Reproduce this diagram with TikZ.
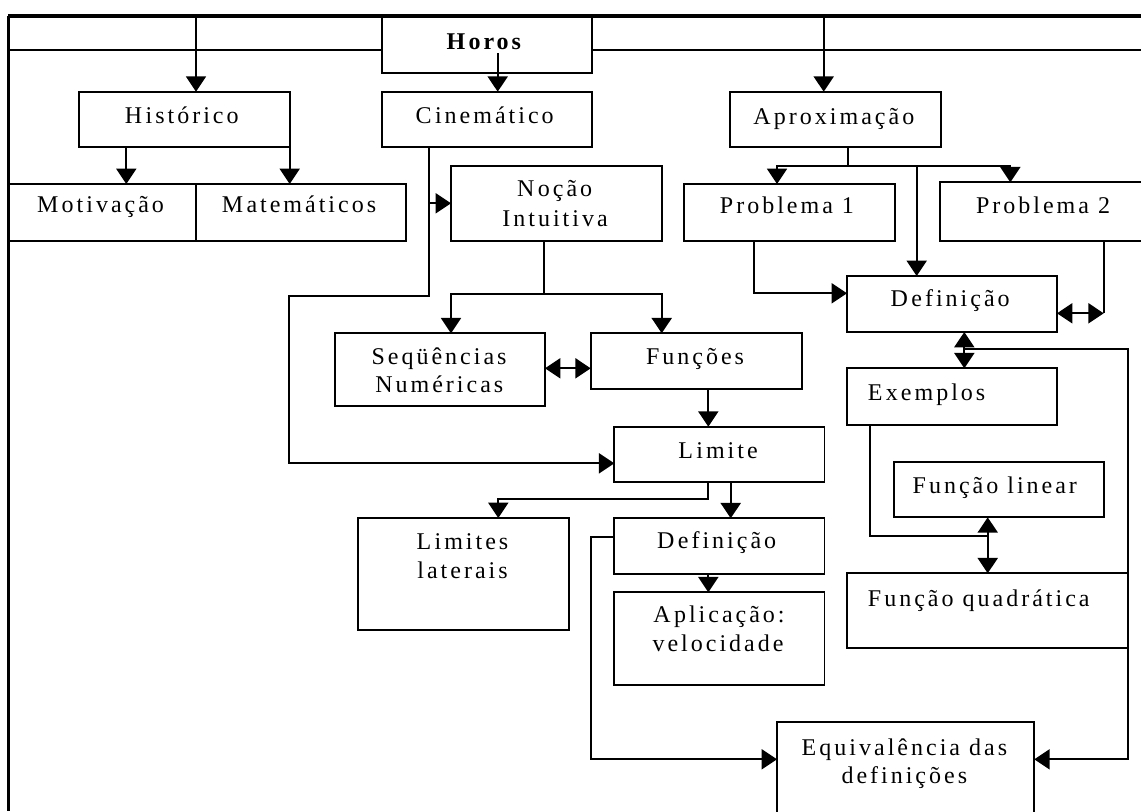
\documentclass[tikz,border=0pt]{standalone}
\usepackage{fontspec}
\setmainfont{Liberation Serif}[LetterSpace=12.5]
\usetikzlibrary{arrows.meta,fit}
% wider gap after an initial capital
\newcommand\fk{\kern2.5pt}
\begin{document}
\begin{tikzpicture}[x=0.75pt,y=-0.75pt,
  box/.style={draw, line width=1.4pt, inner sep=0pt, outer sep=0pt},
  lbl/.style={inner sep=0pt, font=\fontsize{18pt}{21.75pt}\selectfont, anchor=base},
  lblw/.style={lbl, anchor=base west},
  wire/.style={line width=1.4pt},
  tip/.tip={Triangle[length=11.5pt,width=15pt]},
  arr/.style={wire, -tip},
  darr/.style={wire, tip-tip}]
\useasboundingbox (0,0) rectangle (1141,811);
\fill[white] (0,0) rectangle (1141,811);
\clip (0,0) rectangle (1141,811);

% frame
\draw[line width=2.4pt] (8.4,16) -- (1150,16);
\draw[line width=1.8pt] (8.4,16) -- (8.4,811);

% boxes
\node[box, fit={(382,16) (591.7,72.7)}] (horos) {};
\node[box, fit={(79,91.7) (289.7,147.3)}] (hist) {};
\node[box, fit={(382,91.7) (591.7,147.3)}] (cine) {};
\node[box, fit={(730,91.7) (941.3,147.3)}] (aprox) {};
\node[box, fit={(9,184) (196,240.7)}] (motiv) {};
\node[box, fit={(196,184) (405.7,240.7)}] (matem) {};
\node[box, fit={(451,165.7) (661.7,240.7)}] (nocao) {};
\node[box, fit={(684,184) (895,240.7)}] (prob1) {};
\node[box, fit={(940.3,182.3) (1160,240.7)}] (prob2) {};
\node[box, fit={(847,276) (1057,332)}] (def1) {};
\node[box, fit={(335,333.3) (545,406)}] (seq) {};
\node[box, fit={(590.7,333.3) (801.6,389.3)}] (func) {};
\node[box, fit={(847,368.3) (1057,425)}] (exem) {};
\node[box, fit={(614.3,426.7) (824.5,481.7)}] (limite) {};
\node[box, fit={(893.7,461.7) (1103.7,517.3)}] (flin) {};
\node[box, fit={(357.8,518) (569,630)}] (ll) {};
\node[box, fit={(614.3,518.3) (824.5,574)}] (def2) {};
\node[box, fit={(847,573.3) (1127.7,647.7)}] (fquad) {};
\node[box, fit={(614.3,592.3) (824.5,685)}] (aplic) {};
\node[box, fit={(777,722.3) (1034.3,840)}] (equiv) {};

% texts
\node[lbl] (horos-t) at (485.3,49.3) {\textbf{H\fk oros}};
\node[lbl] (hist-t) at (181.8,123.3) {H\fk istórico};
\node[lbl] (cine-t) at (484.7,123.3) {C\fk inemático};
\node[lbl] (aprox-t) at (833.8,124) {A\fk proximação};
\node[lbl] (motiv-t) at (100.5,212.3) {M\fk otivação};
\node[lbl] (matem-t) at (299,212.3) {M\fk atemáticos};
\node[lbl] (nocao-a) at (554.7,196.7) {N\fk oção};
\node[lbl] (nocao-b) at (555,226.7) {Intuitiva};
\node[lbl] (prob1-t) at (786.9,213.3) {Problema 1};
\node[lbl] (prob2-t) at (1043,213.3) {Problema 2};
\node[lbl] (def1-t) at (950.2,306.7) {D\fk efinição};
\node[lbl] (seq-a) at (439,364) {Seqüências};
\node[lbl] (seq-b) at (439.3,392.7) {Numéricas};
\node[lbl] (func-t) at (695,364.3) {Funções};
\node[lblw] (exem-t) at (867.7,400) {E\fk xemplos};
\node[lbl] (limite-t) at (718,458.3) {L\fk imite};
\node[lbl] (flin-t) at (994.8,493.3) {Função linear};
\node[lbl] (ll-a) at (462.5,549.3) {L\fk imites};
\node[lbl] (ll-b) at (462.5,578.3) {laterais};
\node[lbl] (def2-t) at (716.7,548.3) {D\fk efinição};
\node[lblw] (fquad-t) at (867.7,606) {Função quadrática};
\node[lbl] (aplic-a) at (719,622.3) {A\fk plicação:};
\node[lbl] (aplic-b) at (718,651.7) {velocidade};
\node[lbl] (equiv-a) at (904.3,755) {E\fk quivalência das};
\node[lbl] (equiv-b) at (904.3,783.3) {definições};

% guide coordinates for the connectors
\coordinate (l2a) at (8.4,50);
\coordinate (l2b) at (1150,50);
\coordinate (tA) at (196,16);
\coordinate (tB) at (823.7,16);
\coordinate (hs) at (497.7,53);
\coordinate (xa) at (126.3,0);
\coordinate (xc) at (428.7,0);
\coordinate (ya) at (0,295.7);
\coordinate (xl) at (289,0);
\coordinate (yl) at (0,463.3);
\coordinate (yn) at (0,203.3);
\coordinate (xn) at (544.3,0);
\coordinate (yb) at (0,294.3);
\coordinate (xs) at (451,0);
\coordinate (xf) at (661.7,0);
\coordinate (ysf) at (0,368.3);
\coordinate (xfl) at (708.3,0);
\coordinate (yll) at (0,499.3);
\coordinate (xll) at (498.3,0);
\coordinate (xd2) at (730.7,0);
\coordinate (yd2) at (0,536.7);
\coordinate (xeq) at (590.7,0);
\coordinate (yeq) at (0,759.3);
\coordinate (xap) at (847.7,0);
\coordinate (yap) at (0,165.7);
\coordinate (xp1) at (777,0);
\coordinate (xp2) at (1010.3,0);
\coordinate (xd1) at (916.7,0);
\coordinate (xq1) at (753.7,0);
\coordinate (yq1) at (0,293.3);
\coordinate (xq2) at (1103.7,0);
\coordinate (yq2) at (0,313.3);
\coordinate (xde) at (964.3,0);
\coordinate (yr) at (0,349.3);
\coordinate (xr) at (1127.7,0);
\coordinate (xex) at (870,0);
\coordinate (yex) at (0,535.7);
\coordinate (xfq) at (987.7,0);

% second rule, interrupted by the title box
\draw[wire] (l2a) -- (l2a -| horos.west);
\draw[wire] (l2b -| horos.east) -- (l2b);

% top level
\draw[arr] (tA) -- (tA |- hist.north);
\draw[arr] (hs) -- (hs |- cine.north);
\draw[arr] (tB) -- (tB |- aprox.north);

% Histórico
\draw[arr] (hist.south -| xa) -- (motiv.north -| xa);
\draw[arr] (hist.south east) -- (hist.south east |- matem.north);

% Cinemático
\draw[arr] (cine.south -| xc) -- (xc |- ya) -- (xl |- ya) -- (xl |- yl) -- (limite.west |- yl);
\draw[arr] (xc |- yn) -- (nocao.west |- yn);
\draw[wire] (nocao.south -| xn) -- (xn |- yb);
\draw[arr] (xn |- yb) -- (xs |- yb) -- (seq.north -| xs);
\draw[arr] (xn |- yb) -- (xf |- yb) -- (func.north -| xf);
\draw[darr] (seq.east |- ysf) -- (func.west |- ysf);
\draw[arr] (func.south -| xfl) -- (limite.north -| xfl);
\draw[arr] (limite.south -| xfl) -- (xfl |- yll) -- (xll |- yll) -- (ll.north -| xll);
\draw[arr] (limite.south -| xd2) -- (def2.north -| xd2);
\draw[arr] (def2.south -| xfl) -- (aplic.north -| xfl);
\draw[arr] (def2.west |- yd2) -- (xeq |- yd2) -- (xeq |- yeq) -- (equiv.west |- yeq);

% Aproximação
\draw[wire] (aprox.south -| xap) -- (xap |- yap);
\draw[arr] (xap |- yap) -- (xp1 |- yap) -- (prob1.north -| xp1);
\draw[arr] (xap |- yap) -- (xp2 |- yap) -- (prob2.north -| xp2);
\draw[arr] (xd1 |- yap) -- (def1.north -| xd1);
\draw[arr] (prob1.south -| xq1) -- (xq1 |- yq1) -- (def1.west |- yq1);
\draw[wire] (prob2.south -| xq2) -- (xq2 |- yq2);
\draw[darr] (def1.east |- yq2) -- (xq2 |- yq2);
\draw[darr] (def1.south -| xde) -- (exem.north -| xde);
\draw[arr] (xde |- yr) -- (xr |- yr) -- (xr |- yeq) -- (equiv.east |- yeq);
\draw[wire] (exem.south -| xex) -- (xex |- yex) -- (xfq |- yex);
\draw[darr] (flin.south -| xfq) -- (fquad.north -| xfq);
\end{tikzpicture}
\end{document}
